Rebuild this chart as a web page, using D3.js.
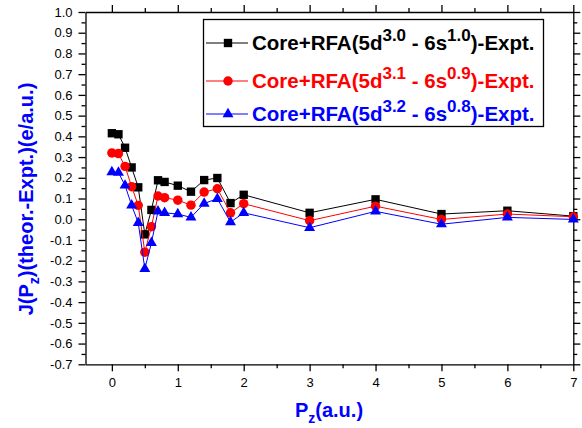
<!DOCTYPE html>
<html lang="en">
<head>
<meta charset="UTF-8">
<title>J(Pz) difference</title>
<script src="https://d3js.org/d3.v7.min.js"></script>
<style>
    * { margin: 0; padding: 0; }
    body { background: #fff; }
    svg { font-family: "Liberation Sans", Arial, sans-serif; }
    .axis path, .axis line { stroke: #000; stroke-width: 1.3; }
    .axis text { font-size: 13px; fill: #000; }
</style>
</head>
<body>
<script>
    // data
    var pz = [0, 0.1, 0.2, 0.3, 0.4, 0.5, 0.6, 0.7, 0.8, 1.0, 1.2, 1.4, 1.6, 1.8, 2.0, 3, 4, 5, 6, 7];
    var rfa30 = [0.415, 0.41, 0.345, 0.25, 0.154, -0.073, 0.045, 0.188, 0.18, 0.162, 0.133, 0.189, 0.199, 0.078, 0.118, 0.031, 0.096, 0.025, 0.041, 0.015];
    var rfa31 = [0.32, 0.317, 0.255, 0.157, 0.067, -0.159, -0.036, 0.112, 0.104, 0.092, 0.068, 0.131, 0.147, 0.031, 0.075, -0.007, 0.063, -0.001, 0.025, 0.012];
    var rfa32 = [0.228, 0.225, 0.163, 0.067, -0.017, -0.239, -0.114, 0.038, 0.031, 0.025, 0.009, 0.076, 0.099, -0.014, 0.031, -0.041, 0.038, -0.024, 0.009, -0.001];

    var xTicks = [0, 1, 2, 3, 4, 5, 6, 7];
    var xMinor = [0.5, 1.5, 2.5, 3.5, 4.5, 5.5, 6.5];
    var yTicks = [-0.7, -0.6, -0.5, -0.4, -0.3, -0.2, -0.1, 0, 0.1, 0.2, 0.3, 0.4, 0.5, 0.6, 0.7, 0.8, 0.9, 1.0];
    var yMinor = [-0.65, -0.55, -0.45, -0.35, -0.25, -0.15, -0.05, 0.05, 0.15, 0.25, 0.35, 0.45, 0.55, 0.65, 0.75, 0.85, 0.95];

    var series = [
        {name: ["Core+RFA(5d", "3.0", " - 6s", "1.0", ")-Expt."], values: rfa30, color: "#000000", sym: d3.symbolSquare, size: 70},
        {name: ["Core+RFA(5d", "3.1", " - 6s", "0.9", ")-Expt."], values: rfa31, color: "#ff0000", sym: d3.symbolCircle, size: 70},
        {name: ["Core+RFA(5d", "3.2", " - 6s", "0.8", ")-Expt."], values: rfa32, color: "#0000ff", sym: d3.symbolTriangle, size: 52}
    ];

    var W = 582, H = 428;
    var svg = d3.select("body").append("svg")
        .attr("width", W)
        .attr("height", H);

    var x = d3.scaleLinear().domain([-0.4, 7]).range([85.5, 573.3]);
    var y = d3.scaleLinear().domain([-0.7, 1.0]).range([364.3, 12]);

    var fmt = function(d) { return (Math.abs(d) < 1e-9 ? 0 : d).toFixed(1) };

    // minor ticks first, then major axes on top
    function minor(axisFn, scale, vals, tr) {
        svg.append("g").attr("class", "axis").attr("transform", tr)
            .call(axisFn(scale).tickValues(vals).tickSize(4).tickFormat(""))
            .select(".domain").remove();
    }
    minor(d3.axisBottom, x, xMinor, "translate(0,364.3)");
    minor(d3.axisTop, x, xMinor, "translate(0,12)");
    minor(d3.axisLeft, y, yMinor, "translate(85.5,0)");
    minor(d3.axisRight, y, yMinor, "translate(573.3,0)");

    svg.append("g").attr("class", "axis").attr("transform", "translate(0,364.3)")
        .call(d3.axisBottom(x).tickValues(xTicks).tickSize(7).tickSizeOuter(0).tickPadding(6).tickFormat(d3.format("d")));
    svg.append("g").attr("class", "axis").attr("transform", "translate(0,12)")
        .call(d3.axisTop(x).tickValues(xTicks).tickSize(7).tickSizeOuter(0).tickFormat(""));
    svg.append("g").attr("class", "axis").attr("transform", "translate(85.5,0)")
        .call(d3.axisLeft(y).tickValues(yTicks).tickSize(7).tickSizeOuter(0).tickPadding(6).tickFormat(fmt));
    svg.append("g").attr("class", "axis").attr("transform", "translate(573.3,0)")
        .call(d3.axisRight(y).tickValues(yTicks).tickSize(7).tickSizeOuter(0).tickFormat(""));

    // lines + markers
    var line = d3.line()
        .x(function(d) { return x(d[0]) })
        .y(function(d) { return y(d[1]) });

    series.forEach(function(s) {
        var pts = pz.map(function(p, i) { return [p, s.values[i]] });
        svg.append("path")
            .attr("d", line(pts))
            .attr("fill", "none")
            .attr("stroke", s.color)
            .attr("stroke-width", 1);
        svg.append("g").selectAll("path")
            .data(pts)
            .enter()
            .append("path")
            .attr("d", d3.symbol().type(s.sym).size(s.size))
            .attr("transform", function(d) { return "translate(" + x(d[0]) + "," + y(d[1]) + ")" })
            .attr("fill", s.color);
    });

    // legend
    var lg = svg.append("g");
    lg.append("rect")
        .attr("x", 203.5).attr("y", 19.5)
        .attr("width", 340).attr("height", 107)
        .attr("fill", "#fff")
        .attr("stroke", "#000")
        .attr("stroke-width", 1.3);
    var rowY = [43, 81, 114];
    series.forEach(function(s, i) {
        var cy = rowY[i];
        lg.append("line")
            .attr("x1", 206).attr("x2", 248)
            .attr("y1", cy).attr("y2", cy)
            .attr("stroke", s.color).attr("stroke-width", 1);
        lg.append("path")
            .attr("d", d3.symbol().type(s.sym).size(s.size))
            .attr("transform", "translate(228," + cy + ")")
            .attr("fill", s.color);
        var t = lg.append("text")
            .attr("x", 252).attr("y", cy + 6.5)
            .attr("fill", s.color)
            .attr("font-weight", "bold")
            .attr("font-size", "20.5px");
        t.append("tspan").text(s.name[0]);
        t.append("tspan").attr("dy", -9).attr("font-size", "17px").text(s.name[1]);
        t.append("tspan").attr("dy", 9).text(s.name[2]);
        t.append("tspan").attr("dy", -9).attr("font-size", "17px").text(s.name[3]);
        t.append("tspan").attr("dy", 9).text(s.name[4]);
    });

    // axis titles
    var xt = svg.append("text")
        .attr("x", 329).attr("y", 417)
        .attr("text-anchor", "middle")
        .attr("fill", "#0000ff")
        .attr("font-weight", "bold")
        .attr("font-size", "20px");
    xt.append("tspan").text("P");
    xt.append("tspan").attr("dy", 6).attr("font-size", "14px").text("z");
    xt.append("tspan").attr("dy", -6).text("(a.u.)");

    var yt = svg.append("text")
        .attr("transform", "translate(33,199) rotate(-90)")
        .attr("text-anchor", "middle")
        .attr("fill", "#0000ff")
        .attr("font-weight", "bold")
        .attr("font-size", "20px");
    yt.append("tspan").text("J(P");
    yt.append("tspan").attr("dy", 6).attr("font-size", "14px").text("z");
    yt.append("tspan").attr("dy", -6).text(")(theor.-Expt.)(e/a.u.)");
</script>
</body>
</html>
